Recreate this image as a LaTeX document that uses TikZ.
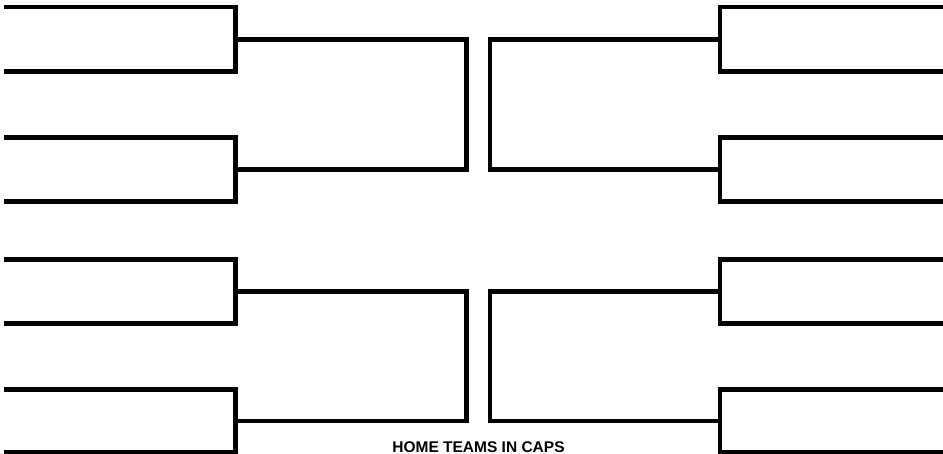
\documentclass[tikz,border=0pt]{standalone}
\usepackage{fontspec}
\setmainfont{Liberation Sans}
\begin{document}
\begin{tikzpicture}[x=1pt,y=-1pt,
  bracketline/.style={line width=4.6pt, line join=miter, line cap=butt},
  caption/.style={font=\fontsize{15.5}{16}\selectfont\bfseries, inner sep=0pt, anchor=base}]
\useasboundingbox (0,0) rectangle (943,454);
% left first round
\coordinate (LA) at (235.5,39.5);
\coordinate (LB) at (235.5,169.5);
\coordinate (LC) at (235.5,291.5);
\coordinate (LD) at (235.5,421);
% right first round
\coordinate (RA) at (720,39.5);
\coordinate (RB) at (720,169.5);
\coordinate (RC) at (720,291.5);
\coordinate (RD) at (720,421);
% left first-round brackets
\draw[bracketline] (4,7) -| (235.5,71.5) -- (4,71.5);
\draw[bracketline] (4,137.5) -| (235.5,201.5) -- (4,201.5);
\draw[bracketline] (4,259.5) -| (235.5,323.5) -- (4,323.5);
\draw[bracketline] (4,389.5) -| (235.5,452.5) -- (4,452.5);
% right first-round brackets
\draw[bracketline] (943,7) -| (720,71.5) -- (943,71.5);
\draw[bracketline] (943,137.5) -| (720,201.5) -- (943,201.5);
\draw[bracketline] (943,259.5) -| (720,323.5) -- (943,323.5);
\draw[bracketline] (943,389.5) -| (720,452.5) -- (943,452.5);
% second round
\draw[bracketline] (LA) -| (466.5,169.5) -- (LB);
\draw[bracketline] (LC) -| (466.5,421) -- (LD);
\draw[bracketline] (RA) -| (490,169.5) -- (RB);
\draw[bracketline] (RC) -| (490,421) -- (RD);
\node[caption] (home) at (478.5,452.5) {HOME TEAMS IN CAPS};
\end{tikzpicture}
\end{document}
